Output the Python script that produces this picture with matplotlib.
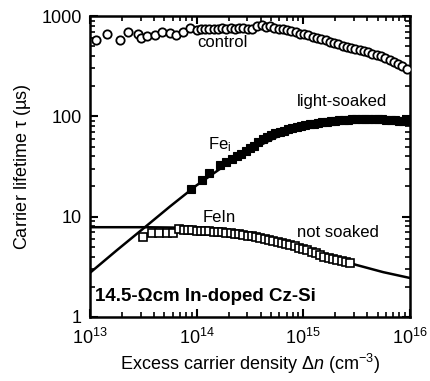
import numpy as np
import matplotlib
matplotlib.use('Agg')
import matplotlib.pyplot as plt

plt.rcParams['font.family'] = ['Liberation Sans', 'DejaVu Sans']
plt.rcParams['mathtext.fontset'] = 'custom'
plt.rcParams['mathtext.rm'] = 'Liberation Sans'
plt.rcParams['mathtext.it'] = 'Liberation Sans:italic'
plt.rcParams['mathtext.bf'] = 'Liberation Sans:bold'

# 測定データ (x は log10(Δn))
control_logn = [13.06, 13.16, 13.28, 13.36, 13.45, 13.48, 13.54, 13.61, 13.68, 13.75,
                13.81, 13.87, 13.94, 14.00, 14.04, 14.08, 14.12, 14.16, 14.20, 14.24,
                14.28, 14.32, 14.36, 14.40, 14.44, 14.48, 14.52, 14.57, 14.61, 14.65,
                14.69, 14.73, 14.77, 14.81, 14.85, 14.89, 14.93, 14.97, 15.01, 15.05,
                15.09, 15.13, 15.17, 15.21, 15.25, 15.29, 15.33, 15.37, 15.41, 15.45,
                15.49, 15.53, 15.57, 15.61, 15.65, 15.69, 15.73, 15.77, 15.81, 15.85,
                15.89, 15.93, 15.97]
control_tau = [580, 660, 577, 700, 660, 605, 633, 648, 698, 683,
               648, 698, 755, 726, 735, 745, 740, 750, 745, 755,
               750, 755, 750, 760, 755, 750, 745, 790, 810, 780,
               800, 760, 750, 735, 720, 705, 690, 660, 655, 640,
               620, 600, 590, 575, 555, 535, 520, 505, 490, 480,
               465, 455, 445, 435, 420, 410, 400, 385, 365, 345,
               330, 315, 297]

soaked_logn = [13.95, 14.05, 14.12, 14.22, 14.28, 14.33, 14.38, 14.42, 14.46, 14.50,
               14.54, 14.58, 14.62, 14.66, 14.70, 14.74, 14.78, 14.82, 14.86, 14.90,
               14.94, 14.98, 15.02, 15.06, 15.10, 15.14, 15.18, 15.22, 15.26, 15.30,
               15.34, 15.38, 15.42, 15.46, 15.50, 15.54, 15.58, 15.62, 15.66, 15.70,
               15.74, 15.78, 15.82, 15.86, 15.90, 15.94, 15.98]
soaked_tau = [19.0, 23.1, 27.4, 32.4, 35.0, 37.2, 40.0, 41.7, 45.0, 48.0,
              51.0, 55.0, 59.0, 62.0, 65.0, 68.0, 70.0, 72.0, 74.0, 76.0,
              78.0, 80.0, 82.0, 83.0, 84.0, 86.0, 87.0, 88.0, 89.0, 90.0,
              91.0, 92.0, 92.5, 93.0, 93.5, 94.0, 94.0, 94.0, 94.0, 93.5,
              93.0, 92.5, 92.0, 91.0, 90.5, 90.0, 89.0]

notsoaked_logn = [13.50, 13.58, 13.65, 13.72, 13.78, 13.84, 13.88, 13.92, 13.96, 14.00,
                  14.04, 14.08, 14.12, 14.16, 14.20, 14.24, 14.28, 14.32, 14.36, 14.40,
                  14.44, 14.48, 14.52, 14.56, 14.60, 14.64, 14.68, 14.72, 14.76, 14.80,
                  14.84, 14.88, 14.92, 14.96, 15.00, 15.04, 15.08, 15.12, 15.16, 15.20,
                  15.24, 15.28, 15.32, 15.36, 15.40, 15.44]
notsoaked_tau = [6.3, 6.95, 6.85, 6.85, 6.95, 7.5, 7.35, 7.3, 7.3, 7.25,
                 7.25, 7.2, 7.15, 7.1, 7.05, 7.0, 6.9, 6.85, 6.75, 6.65,
                 6.55, 6.45, 6.35, 6.25, 6.15, 6.0, 5.9, 5.75, 5.6, 5.5,
                 5.35, 5.2, 5.05, 4.9, 4.75, 4.6, 4.45, 4.3, 4.15, 4.0,
                 3.9, 3.8, 3.7, 3.6, 3.5, 3.45]

# フィット曲線
fei_logn = [13.0, 13.25, 13.5, 13.75, 14.0, 14.25, 14.5, 14.75, 15.0, 15.25,
            15.5, 15.75, 16.0]
fei_tau = [2.75, 4.6, 7.6, 12.6, 20.5, 31.5, 46, 62, 76, 86, 92, 94, 91]

fein_logn = [13.0, 13.5, 13.75, 14.0, 14.25, 14.5, 14.75, 15.0, 15.25, 15.5,
             15.75, 16.0]
fein_tau = [7.85, 7.85, 7.8, 7.7, 7.4, 6.8, 5.9, 4.9, 4.0, 3.3, 2.8, 2.45]


def to_n(logs):
    return 10.0 ** np.array(logs)


fig = plt.figure(figsize=(4.30, 3.81), dpi=100)
ax = fig.add_axes([0.209, 0.168, 0.744, 0.790])

ax.plot(to_n(fei_logn), fei_tau, color='black', lw=1.8, zorder=2)
ax.plot(to_n(fein_logn), fein_tau, color='black', lw=1.8, zorder=2)

ax.plot(to_n(control_logn), control_tau, 'o', ms=6.0, mfc='white', mec='black',
        mew=1.3, zorder=3)
ax.plot(to_n(soaked_logn), soaked_tau, 's', ms=5.8, mfc='black', mec='black',
        mew=0.8, zorder=3)
ax.plot(to_n(notsoaked_logn), notsoaked_tau, 's', ms=5.4, mfc='white', mec='black',
        mew=1.2, zorder=3)

ax.set_xscale('log')
ax.set_yscale('log')
ax.set_xlim(1e13, 1e16)
ax.set_ylim(1, 1000)

ax.set_xticks([1e13, 1e14, 1e15, 1e16])
ax.set_xticklabels([r'$\mathregular{10^{13}}$', r'$\mathregular{10^{14}}$',
                    r'$\mathregular{10^{15}}$', r'$\mathregular{10^{16}}$'])
ax.set_yticks([1, 10, 100, 1000])
ax.set_yticklabels(['1', '10', '100', '1000'])

ax.tick_params(which='both', direction='in', top=True, right=True)
ax.tick_params(which='major', length=6, width=1.5, labelsize=13, pad=6)
ax.tick_params(axis='x', which='major', pad=8)
ax.tick_params(which='minor', length=3.5, width=1.2)
for s in ax.spines.values():
    s.set_linewidth(1.8)

ax.set_xlabel(r'Excess carrier density $\Delta\mathit{n}$ (cm$^{\mathregular{-3}}$)',
              fontsize=13, labelpad=3)
ax.set_ylabel(r'Carrier lifetime $\mathregular{\tau}$ (µs)', fontsize=13, labelpad=6)

ax.text(1.02e14, 540, 'control', fontsize=12, va='center')
ax.text(8.7e14, 141, 'light-soaked', fontsize=12, va='center')
ax.text(1.28e14, 52, r'Fe$_\mathregular{i}$', fontsize=12, va='center', ha='left',
        zorder=5)
ax.text(1.15e14, 9.9, 'FeIn', fontsize=12, va='center')
ax.text(8.7e14, 6.95, 'not soaked', fontsize=12, va='center')
ax.text(1.12e13, 1.585, r'14.5-Ωcm In-doped Cz-Si', fontsize=13.5,
        fontweight='bold', va='center')

fig.savefig('out.png', dpi=100)
